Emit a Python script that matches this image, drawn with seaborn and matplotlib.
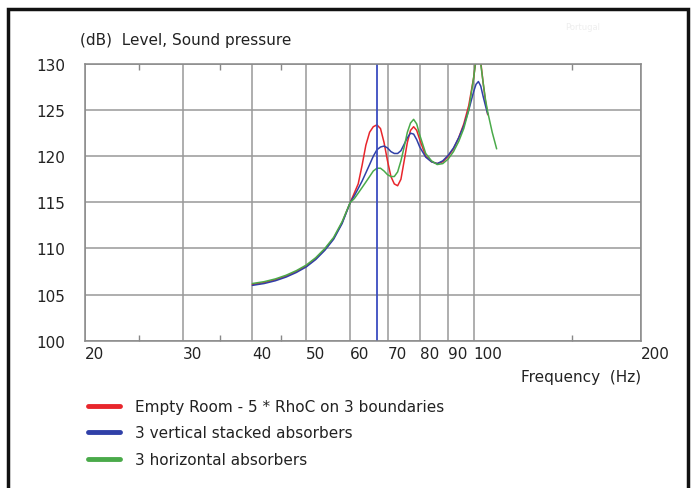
import matplotlib
matplotlib.use("Agg")
import matplotlib.pyplot as plt
from matplotlib.patches import Rectangle
from matplotlib.lines import Line2D
import seaborn as sns
import pandas as pd

# frequencies (Hz)
freq = [40, 42, 44, 46, 48, 50, 52, 54, 56, 58, 60, 61, 62, 63, 64, 65, 66, 67,
        68, 69, 70, 71, 72, 73, 74, 75, 76, 77, 78, 79, 80, 82, 84, 86, 88, 90,
        92, 94, 96, 98, 100, 101, 102, 103, 104, 105, 106]
freq_green = freq + [108, 110]

empty_room = [106.1, 106.3, 106.6, 107.0, 107.5, 108.1, 108.9, 109.9, 111.1, 112.8,
              115.0, 116.0, 117.0, 119.0, 121.2, 122.6, 123.2, 123.4, 123.0, 121.5,
              119.5, 117.8, 117.0, 116.8, 117.5, 119.5, 121.5, 122.8, 123.2, 122.8,
              121.8, 120.0, 119.4, 119.2, 119.4, 120.0, 120.8, 122.0, 123.5, 125.5,
              128.5, 130.5, 131.0, 130.2, 128.0, 126.0, 124.5]
vertical_abs = [106.0, 106.2, 106.5, 106.9, 107.4, 108.0, 108.8, 109.8, 111.0, 112.7,
                115.0, 115.7, 116.5, 117.3, 118.2, 119.1, 120.0, 120.7, 121.0, 121.1,
                120.9, 120.5, 120.3, 120.3, 120.6, 121.3, 122.0, 122.5, 122.4, 121.8,
                121.0, 119.9, 119.4, 119.2, 119.5, 120.1, 120.9, 122.0, 123.3, 125.0,
                127.0, 127.8, 128.1, 127.6, 126.5, 125.5, 124.6]
horizontal_abs = [106.2, 106.4, 106.7, 107.1, 107.6, 108.2, 109.0, 110.0, 111.2, 112.9,
                  115.0, 115.4, 116.0, 116.6, 117.2, 117.8, 118.4, 118.7, 118.7, 118.4,
                  118.0, 117.8, 117.8, 118.3, 119.5, 121.0, 122.6, 123.6, 124.0, 123.5,
                  122.3, 120.3, 119.5, 119.1, 119.2, 119.7, 120.5, 121.6, 123.0, 125.0,
                  128.5, 130.5, 131.0, 130.0, 128.0, 126.2, 124.8, 122.6, 120.8]

labels = ["Empty Room - 5 * RhoC on 3 boundaries",
          "3 vertical stacked absorbers",
          "3 horizontal absorbers"]
colors = ["#e8262c", "#3040a8", "#4aaa4a"]
marker_freq = 67
x_ticks = [20, 30, 40, 50, 60, 70, 80, 90, 100, 200]
x_minor = [25, 35, 45, 150]
y_ticks = [100, 105, 110, 115, 120, 125, 130]

sns.set_style("white")
plt.rcParams["font.family"] = ["DejaVu Sans"]
fs = 11

fig = plt.figure(figsize=(6.94, 4.89), dpi=100)
ax = fig.add_axes([85 / 694, 1 - 341.7 / 489, 556 / 694, 276.7 / 489])

series = [(freq, empty_room), (freq, vertical_abs), (freq_green, horizontal_abs)]
for (f, v), lab, c in zip(series, labels, colors):
    df = pd.DataFrame({"freq": f, "level": v})
    sns.lineplot(data=df, x="freq", y="level", sort=False, color=c, lw=1.1, ax=ax)

ax.axvline(marker_freq, color="#3a4cc0", lw=1.3)

ax.set_xscale("log")
ax.set_xlim(20, 200)
ax.set_ylim(100, 130)
ax.set_xticks(x_ticks)
ax.set_xticklabels([str(t) for t in x_ticks], ha="left")
ax.set_xticks(x_minor, minor=True)
ax.set_xticklabels([], minor=True)
ax.set_yticks(y_ticks)
ax.set_yticklabels([str(t) for t in y_ticks], ha="right")
ax.tick_params(axis="both", which="major", length=0, labelsize=fs, colors="#222222")
ax.tick_params(axis="x", which="major", pad=4)
ax.tick_params(axis="y", which="major", pad=14)
ax.tick_params(axis="x", which="minor", direction="in", length=4, top=True,
               bottom=True, color="#888888", width=1)
ax.grid(True, which="major", color="#999999", lw=1.1)
ax.set_axisbelow(True)
for s in ax.spines.values():
    s.set_color("#888888")
    s.set_linewidth(1.1)
ax.set_xlabel("")
ax.set_ylabel("")

fig.text(80 / 694, 1 - 40 / 489, "(dB)  Level, Sound pressure", fontsize=fs,
         va="center", ha="left", color="#222222")
fig.text(641 / 694, 1 - 378 / 489, "Frequency  (Hz)", fontsize=fs,
         va="center", ha="right", color="#222222")
fig.text(565 / 694, 1 - 27 / 489, "Portugal", fontsize=6, color="#eeeeee",
         va="center", ha="left")

handles = [Line2D([], [], color=c, lw=3.5) for c in colors]
fig.legend(handles, labels, loc="upper left", bbox_to_anchor=(88 / 694, 1 - 400 / 489),
           frameon=False, fontsize=fs, handlelength=2.1, handletextpad=1.0,
           labelspacing=0.75, borderpad=0, borderaxespad=0, labelcolor="#222222")

fig.patches.append(Rectangle((8 / 694, -0.05), 680 / 694, 1.05 - 10 / 489,
                             transform=fig.transFigure, fill=False,
                             edgecolor="#111111", lw=2.5))

fig.savefig("out.png", dpi=100)
